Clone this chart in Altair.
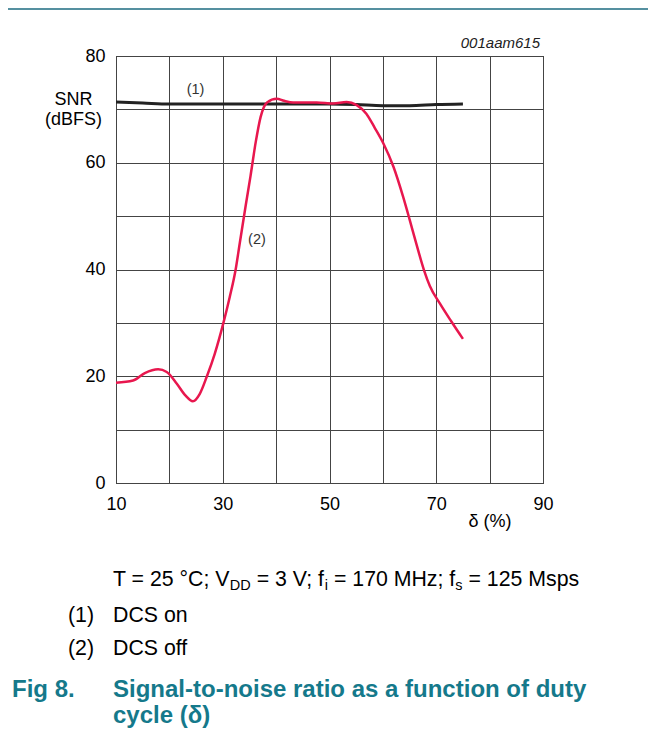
import altair as alt
import pandas as pd

# ---------------- data ----------------
dcs_on_x = [10, 15, 20, 30, 40, 50, 55, 60, 65, 70, 75]
dcs_on_y = [71.4, 71.2, 71.0, 71.0, 71.0, 71.0, 70.9, 70.7, 70.7, 70.9, 71.0]

dcs_off_x = [10, 13.2, 15.4, 17.9, 19.5, 21.4, 23.0, 24.4, 25.7, 27.0, 28.5, 30.1,
             31.3, 32.4, 33.2, 34.3, 35.2, 36.2, 37.1, 38.3, 40.1, 41.5, 43.2,
             47.6, 50.7, 53.2, 55.1, 56.9, 58.5, 60.1, 62.0, 63.8, 65.0, 66.3,
             67.7, 68.8, 70.7, 72.8, 75.0]
dcs_off_y = [18.8, 19.2, 20.6, 21.3, 20.8, 18.6, 16.4, 15.3, 16.7, 19.9, 24.2, 29.9,
             34.8, 39.9, 45.0, 52.0, 57.5, 64.0, 68.6, 71.3, 72.0, 71.6, 71.3,
             71.3, 71.1, 71.4, 70.8, 69.2, 66.5, 63.6, 59.2, 53.6, 49.4, 44.7,
             39.9, 36.9, 33.6, 30.3, 27.0]

x_ticks = [10, 20, 30, 40, 50, 60, 70, 80, 90]
y_ticks = [0, 10, 20, 30, 40, 50, 60, 70, 80]

curve_label_text = ["(1)", "(2)"]
curve_label_x = [24.9, 36.4]
curve_label_y = [73.7, 45.5]

figure_id = "001aam615"
y_title = ["SNR", "(dBFS)"]
x_title = "δ (%)"
cond_pieces = ["T = 25 °C; V", "DD", " = 3 V; f", "i", " = 170 MHz; f", "s", " = 125 Msps"]
cond_is_sub = [False, True, False, True, False, True, False]
legend_nums = ["(1)", "(2)"]
legend_texts = ["DCS on", "DCS off"]
fig_label = "Fig 8."
fig_title = ["Signal-to-noise ratio as a function of duty", "cycle (δ)"]

# ---------------- styling ----------------
FONT = "Liberation Sans"
RED = "#e8174e"
TEAL = "#15798b"
W, H = 427, 427

ARIAL = {' ': 278, '=': 584, '°': 400, 'C': 722, ';': 278, 'V': 667, 'D': 722,
         'T': 611, 'f': 278, 'i': 222, 'M': 833, 'H': 722, 'z': 500, 's': 500,
         'p': 556}
for d in "0123456789":
    ARIAL[d] = 556


def tw(s, size):
    return sum(ARIAL.get(c, 556) for c in s) / 1000.0 * size


def txt(text, x, y, size, color="black", weight="normal", style="normal",
        align="left", baseline="alphabetic"):
    return alt.Chart(pd.DataFrame({"t": [text]})).mark_text(
        font=FONT, fontSize=size, color=color, fontWeight=weight,
        fontStyle=style, align=align, baseline=baseline
    ).encode(x=alt.value(x), y=alt.value(y), text="t:N")


xscale = alt.Scale(domain=[10, 90], nice=False, zero=False)
yscale = alt.Scale(domain=[0, 80], nice=False, zero=False)

axis_common = dict(grid=True, ticks=False, tickSize=0, domain=False,
                   labelFlush=False, labelOverlap=False, title=None,
                   labelFont=FONT, labelFontSize=18, labelColor="black",
                   gridColor="#444444", gridWidth=1, gridOpacity=1)

on_df = pd.DataFrame({"x": dcs_on_x, "y": dcs_on_y})
off_df = pd.DataFrame({"x": dcs_off_x, "y": dcs_off_y})

line_on = alt.Chart(on_df).mark_line(
    color="#222222", strokeWidth=3, interpolate="monotone"
).encode(
    x=alt.X("x:Q", scale=xscale, axis=alt.Axis(
        values=x_ticks, labelExpr="datum.value % 20 == 10 ? datum.label : ''",
        labelPadding=12, **axis_common)),
    y=alt.Y("y:Q", scale=yscale, axis=alt.Axis(
        values=y_ticks, labelExpr="datum.value % 20 == 0 ? datum.label : ''",
        labelPadding=11, **axis_common)),
)

line_off = alt.Chart(off_df).mark_line(
    color=RED, strokeWidth=2.5, interpolate="monotone"
).encode(x=alt.X("x:Q", scale=xscale), y=alt.Y("y:Q", scale=yscale))

lab_df = pd.DataFrame({"x": curve_label_x, "y": curve_label_y, "t": curve_label_text})
curve_labels = alt.Chart(lab_df).mark_text(
    font=FONT, fontSize=14.5, color="#333333", baseline="middle", align="center"
).encode(x=alt.X("x:Q", scale=xscale), y=alt.Y("y:Q", scale=yscale), text="t:N")

layers = [line_on, line_off, curve_labels]

# top rule
layers.append(alt.Chart(pd.DataFrame({"a": [0]})).mark_rule(
    color="#1d6b80", strokeWidth=1.5
).encode(x=alt.value(-108), x2=alt.value(532), y=alt.value(-47)))

layers.append(txt(figure_id, 424, -8, 15, color="#222222", style="italic", align="right"))
layers.append(txt(y_title[0], -42.5, 49, 18, align="center"))
layers.append(txt(y_title[1], -42.5, 69, 18, align="center"))
layers.append(txt(x_title, 374, 471, 18, align="center"))

# conditions line with subscripts
MAIN, SUB = 21.3, 14.5
cx = -3.0
base_y = 530
for piece, sub in zip(cond_pieces, cond_is_sub):
    size = SUB if sub else MAIN
    stripped = piece.lstrip(" ")
    lead = tw(piece[:len(piece) - len(stripped)], size)
    layers.append(txt(stripped, cx + lead, base_y + (4 if sub else 0), size))
    cx += tw(piece, size)

# legend lines
for i, (n, t) in enumerate(zip(legend_nums, legend_texts)):
    by = 566 + i * 33
    layers.append(txt(n, -48, by, MAIN))
    layers.append(txt(t, -3, by, MAIN))

# figure caption
layers.append(txt(fig_label, -104, 641, 24, color=TEAL, weight="bold"))
layers.append(txt(fig_title[0], -3, 641, 24, color=TEAL, weight="bold"))
layers.append(txt(fig_title[1], -3, 667, 24, color=TEAL, weight="bold"))

chart = alt.layer(*layers).properties(
    width=W, height=H,
    padding={"left": 108, "top": 48, "right": 105, "bottom": 245},
    autosize=alt.AutoSizeParams(type="none"),
    background="white",
).configure_view(
    stroke="black", strokeWidth=1
)

chart.save("out.html", embed_options={"renderer": "svg", "actions": False})
